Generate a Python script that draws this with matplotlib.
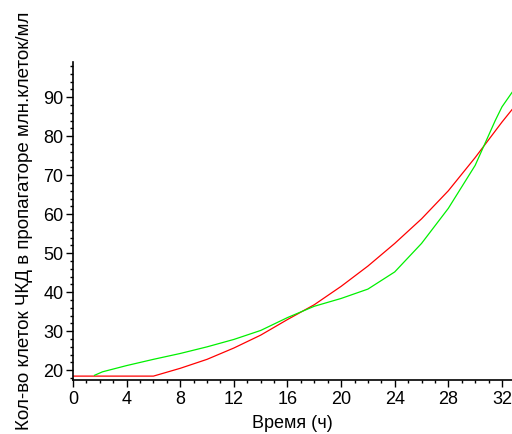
import matplotlib
matplotlib.use('Agg')
import matplotlib.pyplot as plt
from matplotlib.ticker import MultipleLocator

plt.rcParams['font.family'] = ['Liberation Sans', 'DejaVu Sans']

# red curve (model)
t_red = [0, 6, 8, 10, 12, 14, 16, 18, 20, 22, 24, 26, 28, 30, 32, 32.75]
n_red = [18.5, 18.5, 20.5, 22.8, 25.7, 29.0, 33.0, 36.8, 41.5, 46.7, 52.5, 58.8, 66.0, 74.5, 83.6, 86.8]

# green curve (experiment)
t_green = [1.6, 2.2, 4, 6, 8, 10, 12, 14, 16, 18, 20, 22, 24, 26, 28, 30, 31.5, 32, 32.75]
n_green = [18.7, 19.6, 21.2, 22.8, 24.3, 26.0, 27.9, 30.2, 33.5, 36.4, 38.4, 40.8, 45.2, 52.5, 61.5, 72.5, 84.0, 87.5, 91.2]

fig = plt.figure(figsize=(5.12, 4.34), dpi=100)
ax = fig.add_axes([0.1426, 0.1244, 0.8574, 0.7327])

ax.plot(t_red, n_red, color='#ff0000', lw=0.9)
ax.plot(t_green, n_green, color='#00f000', lw=0.9)

ax.set_xlim(0, 32.75)
ax.set_ylim(17.5, 99)

ax.spines['top'].set_visible(False)
ax.spines['right'].set_visible(False)
ax.spines['left'].set_linewidth(1.2)
ax.spines['bottom'].set_linewidth(1.2)

ax.xaxis.set_major_locator(MultipleLocator(4))
ax.xaxis.set_minor_locator(MultipleLocator(1))
ax.yaxis.set_major_locator(MultipleLocator(10))
ax.yaxis.set_minor_locator(MultipleLocator(2))
ax.tick_params(which='major', length=5, width=1, labelsize=13, pad=2)
ax.tick_params(which='minor', length=2.5, width=1)
ax.tick_params(axis='x', which='major', pad=3)

ax.set_xlabel('Время (ч)', fontsize=13, labelpad=5)
ax.set_ylabel('Кол-во клеток ЧКД в пропагаторе млн.клеток/мл', fontsize=13.5, labelpad=7)

fig.savefig('out.png', dpi=100)
